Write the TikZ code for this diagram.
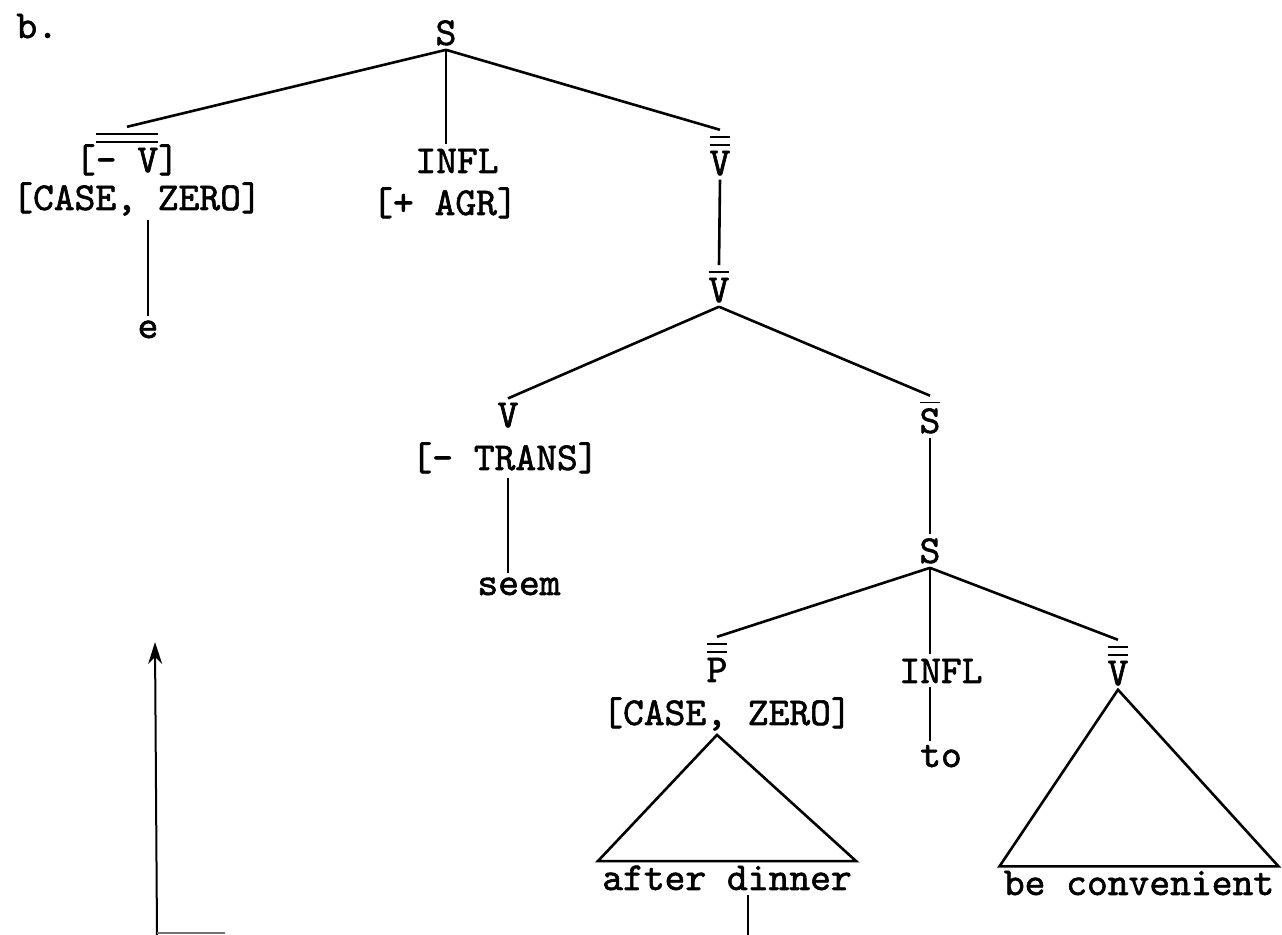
\documentclass[tikz,border=0pt]{standalone}
\usepackage{fontspec}
\usepackage{amsmath}
\usetikzlibrary{arrows.meta}

\newfontfamily\typefont{lmmono10-regular.otf}[FakeBold=1.5]
\newcommand{\onebar}[1]{$\overline{\mbox{#1}}$}
\newcommand{\twobar}[1]{$\overline{\overline{\mbox{#1}}}$}

\tikzset{
  lbl/.style={font=\fontsize{19.8}{23}\selectfont\typefont, inner sep=2pt, anchor=base},
  edge/.style={line width=1.3pt}
}

\begin{document}
\begin{tikzpicture}[x=0.5pt, y=-0.5pt]
    \useasboundingbox (0,0) rectangle (1282,935);

    \node[lbl, anchor=base west] (tag) at (12,38) {b.};

    % top clause
    \node[lbl] (s) at (446,45) {S};
    \node[lbl] (nv) at (127,172) {[\twobar{- V}]};
    \node[lbl] (case) at (137,210) {[CASE, ZERO]};
    \node[lbl] (e) at (148,338) {e};
    \node[lbl] (infl) at (457,173) {INFL};
    \node[lbl] (agr) at (445,215) {[+ AGR]};
    \node[lbl] (vbb) at (720,175) {\twobar{V}};
    \node[lbl] (vb) at (719,302) {\onebar{V}};

    \draw[edge] (s.south) -- (nv.north);
    \draw[edge] (s.south) -- (s.south |- infl.north);
    \draw[edge] (s.south) -- (vbb.north);
    \draw[edge] (e.north |- case.south) -- (e.north);
    \draw[edge] (vbb.south) -- (vb.north);

    % verb phrase
    \node[lbl] (v) at (508,427) {V};
    \node[lbl] (trans) at (505,470) {[- TRANS]};
    \node[lbl] (seem) at (519,595) {seem};
    \node[lbl] (sbar) at (930,433) {\onebar{S}};
    \node[lbl] (s2) at (930,563) {S};

    \draw[edge] (vb.south) -- (v.north);
    \draw[edge] (vb.south) -- (sbar.north);
    \draw[edge] (v.south |- trans.south) -- (v.south |- seem.north);
    \draw[edge] (sbar.south) -- (s2.north);

    % embedded clause
    \node[lbl] (pbb) at (717,682) {\twobar{P}};
    \node[lbl] (case2) at (727,725) {[CASE, ZERO]};
    \node[lbl] (after) at (727,890) {after dinner};
    \node[lbl] (infl2) at (941,683) {INFL};
    \node[lbl] (to) at (941,767) {to};
    \node[lbl] (vbb2) at (1118,685) {\twobar{V}};
    \node[lbl] (conv) at (1139,895) {be convenient};

    \draw[edge] (s2.south) -- (pbb.north);
    \draw[edge] (s2.south) -- (s2.south |- infl2.north);
    \draw[edge] (s2.south) -- (vbb2.north);
    \draw[edge] (s2.south |- infl2.south) -- (s2.south |- to.north);
    \draw[edge] (pbb.south |- case2.south) -- (after.north east) -- (after.north west) -- cycle;
    \draw[edge] (vbb2.south) -- (conv.north east) -- (conv.north west) -- cycle;

    % cut-off lines at the bottom
    \coordinate (dinbot) at (748,935);
    \coordinate (arrbot) at (157,935);
    \coordinate (arrtop) at (155,642);
    \coordinate (hend) at (225,933);
    \draw[edge] (after.south -| dinbot) -- (dinbot);
    \draw[line width=1pt, -{Stealth[length=11pt, width=7pt]}] (arrbot) -- (arrtop);
    \draw[line width=1pt, black!55] (arrbot |- hend) -- (hend);
\end{tikzpicture}
\end{document}
